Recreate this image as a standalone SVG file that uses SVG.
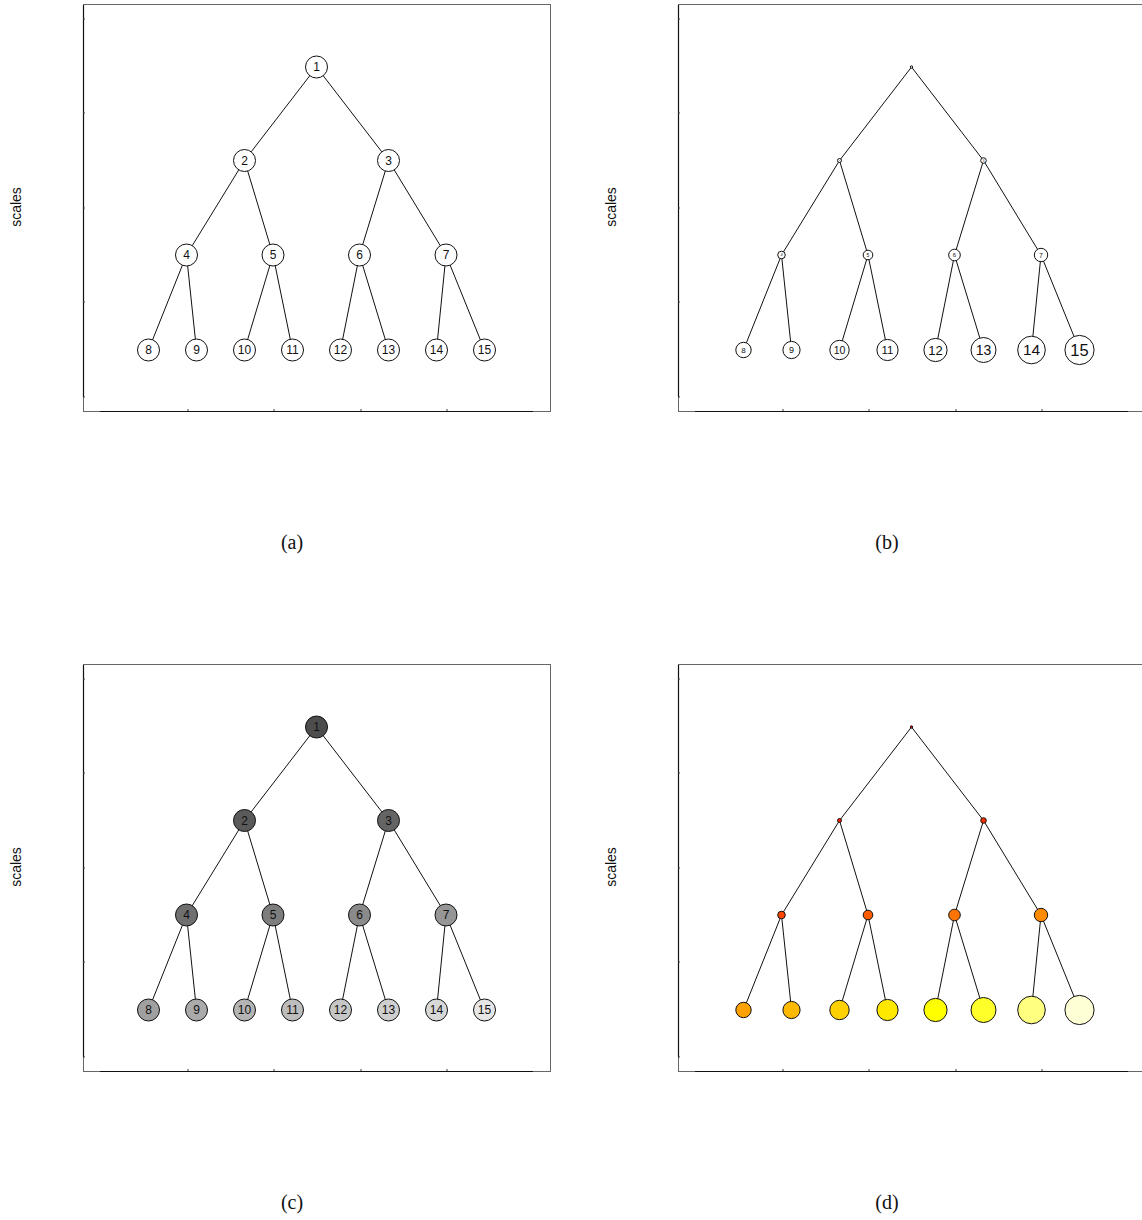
<svg xmlns="http://www.w3.org/2000/svg" width="1142" height="1220" viewBox="0 0 1142 1220">
<style>
.frame{fill:none;stroke:#666;stroke-width:1}
.axis{stroke:#111;stroke-width:1.2;fill:none}
.tick{stroke:#444;stroke-width:1}
.edge{stroke:#111;stroke-width:1;fill:none}
.nd{stroke:#111;stroke-width:1}
.lab{font-family:"Liberation Sans",Arial,sans-serif;fill:#111;text-anchor:middle}
.ylab{font-family:"Liberation Sans",Arial,sans-serif;font-size:14px;fill:#111;text-anchor:middle}
.cap{font-family:"Liberation Serif","Times New Roman",serif;font-size:20px;fill:#111;text-anchor:middle}
</style>
<defs>
<g id="axes">
<rect class="frame" x="83.5" y="4.5" width="467" height="407"/>
<line class="axis" x1="83.5" y1="5" x2="83.5" y2="397"/>
<line class="axis" x1="100" y1="411.5" x2="533" y2="411.5"/>
<path class="tick" d="M83 19h2M83 113h2M83 208h2M83 302h2M83 397h2M188 411v-2M274 411v-2M361 411v-2M447 411v-2"/>
</g>
<g id="edges">
<path class="edge" d="M316.5 67L244.5 160.5M316.5 67L388.5 160.5M244.5 160.5L186.5 255M244.5 160.5L273 255M388.5 160.5L359.5 255M388.5 160.5L446 255M186.5 255L148.5 350M186.5 255L196.5 350M273 255L244.5 350M273 255L292.5 350M359.5 255L340.5 350M359.5 255L388.5 350M446 255L436.5 350M446 255L484.5 350"/>
</g>
</defs>

<!-- panel a -->
<g id="panel-a">
<use href="#axes"/>
<text class="ylab" transform="translate(21,207) rotate(-90)">scales</text>
<g id="connectors-a"><use href="#edges"/></g>
<g class="lab" font-size="12">
<g id="a-n1"><circle class="nd" cx="316.5" cy="67" r="11" fill="#fff"/><text x="316.5" y="71.3">1</text></g>
<g id="a-n2"><circle class="nd" cx="244.5" cy="160.5" r="11" fill="#fff"/><text x="244.5" y="164.8">2</text></g>
<g id="a-n3"><circle class="nd" cx="388.5" cy="160.5" r="11" fill="#fff"/><text x="388.5" y="164.8">3</text></g>
<g id="a-n4"><circle class="nd" cx="186.5" cy="255" r="11" fill="#fff"/><text x="186.5" y="259.3">4</text></g>
<g id="a-n5"><circle class="nd" cx="273" cy="255" r="11" fill="#fff"/><text x="273" y="259.3">5</text></g>
<g id="a-n6"><circle class="nd" cx="359.5" cy="255" r="11" fill="#fff"/><text x="359.5" y="259.3">6</text></g>
<g id="a-n7"><circle class="nd" cx="446" cy="255" r="11" fill="#fff"/><text x="446" y="259.3">7</text></g>
<g id="a-n8"><circle class="nd" cx="148.5" cy="350" r="11" fill="#fff"/><text x="148.5" y="354.3">8</text></g>
<g id="a-n9"><circle class="nd" cx="196.5" cy="350" r="11" fill="#fff"/><text x="196.5" y="354.3">9</text></g>
<g id="a-n10"><circle class="nd" cx="244.5" cy="350" r="11" fill="#fff"/><text x="244.5" y="354.3">10</text></g>
<g id="a-n11"><circle class="nd" cx="292.5" cy="350" r="11" fill="#fff"/><text x="292.5" y="354.3">11</text></g>
<g id="a-n12"><circle class="nd" cx="340.5" cy="350" r="11" fill="#fff"/><text x="340.5" y="354.3">12</text></g>
<g id="a-n13"><circle class="nd" cx="388.5" cy="350" r="11" fill="#fff"/><text x="388.5" y="354.3">13</text></g>
<g id="a-n14"><circle class="nd" cx="436.5" cy="350" r="11" fill="#fff"/><text x="436.5" y="354.3">14</text></g>
<g id="a-n15"><circle class="nd" cx="484.5" cy="350" r="11" fill="#fff"/><text x="484.5" y="354.3">15</text></g>
</g>
<text class="cap" x="292" y="549">(a)</text>
</g>

<!-- panel b -->
<g id="panel-b" transform="translate(595,0)">
<use href="#axes"/>
<text class="ylab" transform="translate(21,207) rotate(-90)">scales</text>
<g id="connectors-b"><use href="#edges"/></g>
<g class="lab">
<g id="b-n1"><circle class="nd" cx="316.5" cy="67" r="1.2" fill="#fff"/><text x="316.5" y="67.4" font-size="1">1</text></g>
<g id="b-n2"><circle class="nd" cx="244.5" cy="160.5" r="2" fill="#fff"/><text x="244.5" y="161.2" font-size="2">2</text></g>
<g id="b-n3"><circle class="nd" cx="388.5" cy="160.5" r="2.8" fill="#fff"/><text x="388.5" y="161.5" font-size="3">3</text></g>
<g id="b-n4"><circle class="nd" cx="186.5" cy="255" r="3.8" fill="#fff"/><text x="186.5" y="256.4" font-size="4">4</text></g>
<g id="b-n5"><circle class="nd" cx="273" cy="255" r="4.8" fill="#fff"/><text x="273" y="256.8" font-size="5">5</text></g>
<g id="b-n6"><circle class="nd" cx="359.5" cy="255" r="5.8" fill="#fff"/><text x="359.5" y="257.1" font-size="6">6</text></g>
<g id="b-n7"><circle class="nd" cx="446" cy="255" r="6.7" fill="#fff"/><text x="446" y="257.5" font-size="7">7</text></g>
<g id="b-n8"><circle class="nd" cx="148.5" cy="350" r="7.7" fill="#fff"/><text x="148.5" y="352.9" font-size="8">8</text></g>
<g id="b-n9"><circle class="nd" cx="196.5" cy="350" r="8.6" fill="#fff"/><text x="196.5" y="353.2" font-size="9">9</text></g>
<g id="b-n10"><circle class="nd" cx="244.5" cy="350" r="9.7" fill="#fff"/><text x="244.5" y="353.6" font-size="10.5">10</text></g>
<g id="b-n11"><circle class="nd" cx="292.5" cy="350" r="10.6" fill="#fff"/><text x="292.5" y="354" font-size="11.5">11</text></g>
<g id="b-n12"><circle class="nd" cx="340.5" cy="350" r="11.6" fill="#fff"/><text x="340.5" y="354.5" font-size="13">12</text></g>
<g id="b-n13"><circle class="nd" cx="388.5" cy="350" r="12.5" fill="#fff"/><text x="388.5" y="354.9" font-size="14">13</text></g>
<g id="b-n14"><circle class="nd" cx="436.5" cy="350" r="13.8" fill="#fff"/><text x="436.5" y="355.4" font-size="15.5">14</text></g>
<g id="b-n15"><circle class="nd" cx="484.5" cy="350" r="14.6" fill="#fff"/><text x="484.5" y="355.8" font-size="16.5">15</text></g>
</g>
<text class="cap" x="292" y="549">(b)</text>
</g>

<!-- panel c -->
<g id="panel-c" transform="translate(0,660)">
<use href="#axes"/>
<text class="ylab" transform="translate(21,207) rotate(-90)">scales</text>
<g id="connectors-c"><use href="#edges"/></g>
<g class="lab" font-size="12">
<g id="c-n1"><circle class="nd" cx="316.5" cy="67" r="11" fill="#4d4d4d"/><text x="316.5" y="71.3">1</text></g>
<g id="c-n2"><circle class="nd" cx="244.5" cy="160.5" r="11" fill="#5a5a5a"/><text x="244.5" y="164.8">2</text></g>
<g id="c-n3"><circle class="nd" cx="388.5" cy="160.5" r="11" fill="#646464"/><text x="388.5" y="164.8">3</text></g>
<g id="c-n4"><circle class="nd" cx="186.5" cy="255" r="11" fill="#6f6f6f"/><text x="186.5" y="259.3">4</text></g>
<g id="c-n5"><circle class="nd" cx="273" cy="255" r="11" fill="#7d7d7d"/><text x="273" y="259.3">5</text></g>
<g id="c-n6"><circle class="nd" cx="359.5" cy="255" r="11" fill="#8a8a8a"/><text x="359.5" y="259.3">6</text></g>
<g id="c-n7"><circle class="nd" cx="446" cy="255" r="11" fill="#969696"/><text x="446" y="259.3">7</text></g>
<g id="c-n8"><circle class="nd" cx="148.5" cy="350" r="11" fill="#a0a0a0"/><text x="148.5" y="354.3">8</text></g>
<g id="c-n9"><circle class="nd" cx="196.5" cy="350" r="11" fill="#aaaaaa"/><text x="196.5" y="354.3">9</text></g>
<g id="c-n10"><circle class="nd" cx="244.5" cy="350" r="11" fill="#b4b4b4"/><text x="244.5" y="354.3">10</text></g>
<g id="c-n11"><circle class="nd" cx="292.5" cy="350" r="11" fill="#bdbdbd"/><text x="292.5" y="354.3">11</text></g>
<g id="c-n12"><circle class="nd" cx="340.5" cy="350" r="11" fill="#c6c6c6"/><text x="340.5" y="354.3">12</text></g>
<g id="c-n13"><circle class="nd" cx="388.5" cy="350" r="11" fill="#cfcfcf"/><text x="388.5" y="354.3">13</text></g>
<g id="c-n14"><circle class="nd" cx="436.5" cy="350" r="11" fill="#d8d8d8"/><text x="436.5" y="354.3">14</text></g>
<g id="c-n15"><circle class="nd" cx="484.5" cy="350" r="11" fill="#e6e6e6"/><text x="484.5" y="354.3">15</text></g>
</g>
<text class="cap" x="292" y="549">(c)</text>
</g>

<!-- panel d -->
<g id="panel-d" transform="translate(595,660)">
<use href="#axes"/>
<text class="ylab" transform="translate(21,207) rotate(-90)">scales</text>
<g id="connectors-d"><use href="#edges"/></g>
<g>
<g id="d-n1"><circle class="nd" cx="316.5" cy="67" r="1.2" fill="#ff0000"/></g>
<g id="d-n2"><circle class="nd" cx="244.5" cy="160.5" r="2" fill="#ff1700"/></g>
<g id="d-n3"><circle class="nd" cx="388.5" cy="160.5" r="2.8" fill="#ff2e00"/></g>
<g id="d-n4"><circle class="nd" cx="186.5" cy="255" r="3.8" fill="#ff4600"/></g>
<g id="d-n5"><circle class="nd" cx="273" cy="255" r="4.8" fill="#ff5d00"/></g>
<g id="d-n6"><circle class="nd" cx="359.5" cy="255" r="5.8" fill="#ff7400"/></g>
<g id="d-n7"><circle class="nd" cx="446" cy="255" r="6.7" fill="#ff8b00"/></g>
<g id="d-n8"><circle class="nd" cx="148.5" cy="350" r="7.7" fill="#ffa200"/></g>
<g id="d-n9"><circle class="nd" cx="196.5" cy="350" r="8.6" fill="#ffb900"/></g>
<g id="d-n10"><circle class="nd" cx="244.5" cy="350" r="9.7" fill="#ffd100"/></g>
<g id="d-n11"><circle class="nd" cx="292.5" cy="350" r="10.6" fill="#ffe800"/></g>
<g id="d-n12"><circle class="nd" cx="340.5" cy="350" r="11.6" fill="#ffff00"/></g>
<g id="d-n13"><circle class="nd" cx="388.5" cy="350" r="12.5" fill="#ffff2a"/></g>
<g id="d-n14"><circle class="nd" cx="436.5" cy="350" r="13.8" fill="#ffff80"/></g>
<g id="d-n15"><circle class="nd" cx="484.5" cy="350" r="14.6" fill="#ffffd5"/></g>
</g>
<text class="cap" x="292" y="549">(d)</text>
</g>
</svg>
